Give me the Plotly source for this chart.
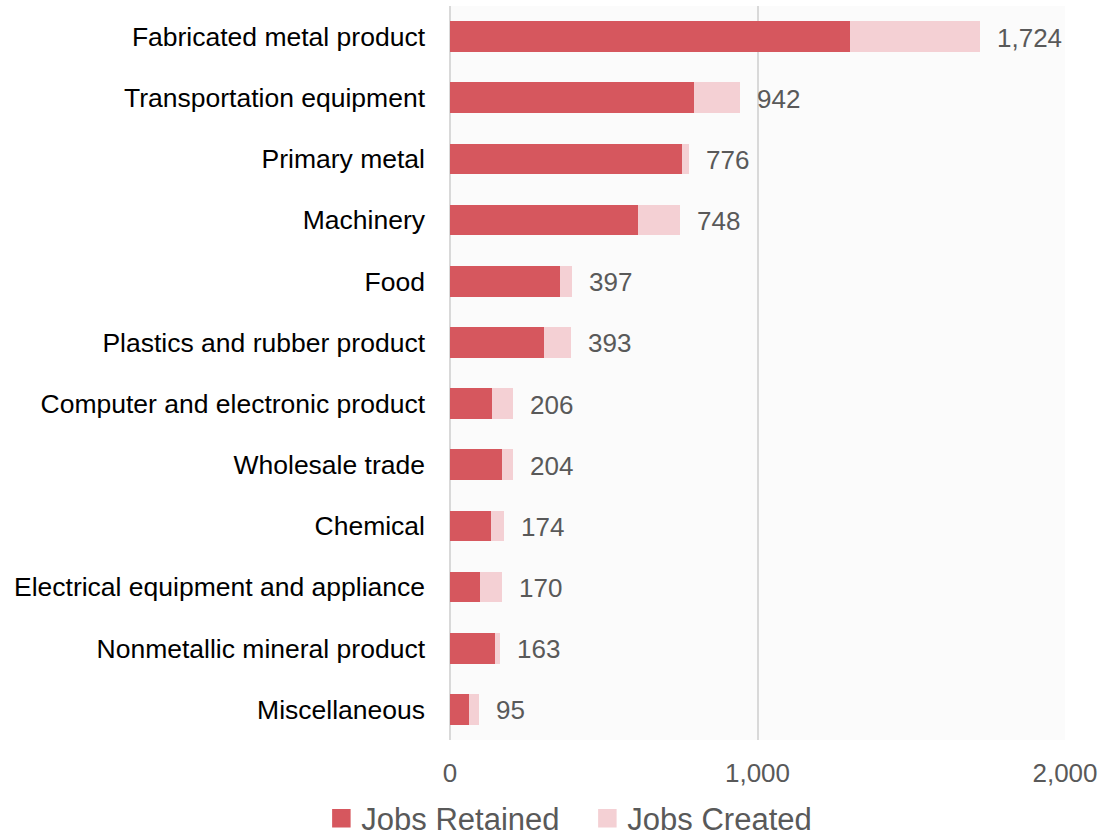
import plotly.graph_objects as go

categories = [
    "Fabricated metal product",
    "Transportation equipment",
    "Primary metal",
    "Machinery",
    "Food",
    "Plastics and rubber product",
    "Computer and electronic product",
    "Wholesale trade",
    "Chemical",
    "Electrical equipment and appliance",
    "Nonmetallic mineral product",
    "Miscellaneous",
]
jobs_retained = [1300, 794, 756, 610, 358, 306, 135, 168, 132, 98, 147, 61]
jobs_created = [424, 148, 20, 138, 39, 87, 71, 36, 42, 72, 16, 34]
totals = [r + c for r, c in zip(jobs_retained, jobs_created)]
x_ticks = [0, 1000, 2000]
series_names = ["Jobs Retained", "Jobs Created"]

DARK = "#d6575e"
LIGHT = "#f4d0d4"
GREY = "#595959"
FONT = "Liberation Sans, Arial, sans-serif"

fig = go.Figure()
for name, vals, col in zip(series_names, [jobs_retained, jobs_created], [DARK, LIGHT]):
    fig.add_trace(go.Bar(
        y=categories, x=vals, name=name, orientation="h",
        marker=dict(color=col, line=dict(width=0)),
        showlegend=False, legendgroup=name,
    ))
# legend entries with larger square swatches
for name, col in zip(series_names, [DARK, LIGHT]):
    fig.add_trace(go.Scatter(
        x=[None], y=[None], mode="markers", name=name, legendgroup=name,
        marker=dict(symbol="square", size=16, color=col, line=dict(width=2.5, color=col)),
    ))

for cat, tot in zip(categories, totals):
    fig.add_annotation(
        x=tot, y=cat, text=f"{tot:,}", showarrow=False,
        xanchor="left", yanchor="middle", xshift=15, yshift=-1,
        font=dict(family=FONT, size=26, color=GREY),
    )

fig.update_layout(
    width=1102, height=839,
    barmode="stack", bargap=0.5,
    margin=dict(l=450, r=37, t=6, b=99, autoexpand=False),
    paper_bgcolor="white", plot_bgcolor="#fbfbfb",
    font=dict(family=FONT, color=GREY),
    showlegend=True,
    legend=dict(
        orientation="h", xref="container", yref="paper",
        x=0.533, xanchor="center", y=-0.107, yanchor="middle",
        font=dict(family=FONT, size=31, color=GREY),
        traceorder="normal", itemwidth=30,
        entrywidth=221, entrywidthmode="pixels",
    ),
)
fig.update_xaxes(
    range=[0, 2000], tickvals=x_ticks, ticktext=[f"{v:,}" for v in x_ticks],
    showgrid=True, gridcolor="#d9d9d9", gridwidth=1.5,
    zeroline=True, zerolinecolor="#d9d9d9", zerolinewidth=2,
    tickfont=dict(family=FONT, size=26, color=GREY),
    ticks="", ticklabelstandoff=15,
)
fig.update_yaxes(
    autorange="reversed", showgrid=False,
    tickfont=dict(family=FONT, size=26.5, color="black"),
    ticks="", ticklabelstandoff=24,
)

fig.write_html("out.html", config={"displayModeBar": False},
               post_script="document.body.style.margin='0';")
